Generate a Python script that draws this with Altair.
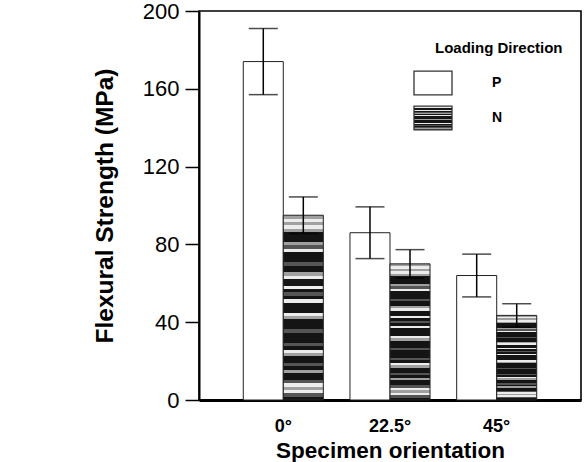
import altair as alt
import pandas as pd

# Flexural strength by specimen orientation, two loading directions
orientation = ["0°", "22.5°", "45°"]
directions = ["P", "N"]
p_mean = [174, 86, 64]
p_err = [17, 13.3, 11]
n_mean = [95, 70, 43.5]
n_err = [9.4, 7.3, 6]

rows = []
for i, o in enumerate(orientation):
    rows.append({"orientation": o, "dir": "P", "mean": p_mean[i], "err": p_err[i]})
    rows.append({"orientation": o, "dir": "N", "mean": n_mean[i], "err": n_err[i]})
df = pd.DataFrame(rows)
df["lo"] = df["mean"] - df["err"]
df["hi"] = df["mean"] + df["err"]

# Horizontal streaky texture for the N bars, built as a hard-stop vertical gradient
STRIPES = "gwgwgkkkgdwkkkdkkgwkkwkdkwkkkwgkkkdkkkdkwgkkdkgkkdwgwdk"
SHADES = {"k": "#141414", "d": "#555555", "g": "#a0a0a0", "w": "#ececec"}
n = len(STRIPES)
stops = []
for i, ch in enumerate(STRIPES):
    c = SHADES[ch]
    stops.append(f"{{offset:{i / n:.4f},color:'{c}'}}")
    stops.append(f"{{offset:{(i + 1) / n:.4f},color:'{c}'}}")
texture = "{gradient:'linear',x1:0,y1:0,x2:0,y2:1,stops:[" + ",".join(stops) + "]}"

FONT = "Liberation Sans"

x_enc = alt.X(
    "orientation:N",
    sort=orientation,
    scale=alt.Scale(paddingInner=0, paddingOuter=0.29),
    axis=alt.Axis(
        title="Specimen orientation",
        labelAngle=0,
        ticks=False,
        labelFontSize=18,
        labelFontWeight="bold",
        labelPadding=17,
        titleFontSize=22.5,
        titleFontWeight="bold",
        titlePadding=4,
        domainWidth=3,
        domainColor="black",
        labelColor="black",
        titleColor="black",
    ),
)
xoff_enc = alt.XOffset(
    "dir:N", sort=directions, scale=alt.Scale(paddingInner=0, paddingOuter=0.333)
)

y_axis = alt.Axis(
    title="Flexural Strength (MPa)",
    values=list(range(0, 201, 20)),
    labelExpr="datum.value % 40 == 0 ? datum.label : ''",
    tickSize={"condition": {"test": "datum.value % 40 == 0", "value": 14}, "value": 9},
    tickWidth=1.5,
    tickColor="black",
    domainWidth=2,
    domainColor="black",
    labelFontSize=22,
    labelPadding=6,
    labelColor="black",
    titleFontSize=24.5,
    titleFontWeight="bold",
    titlePadding=25,
    titleColor="black",
    grid=False,
)

bars = alt.Chart(df).mark_bar(stroke="#222", strokeWidth=1).encode(
    x=x_enc,
    xOffset=xoff_enc,
    y=alt.Y("mean:Q", scale=alt.Scale(domain=[0, 200], nice=False), axis=y_axis),
    color=alt.Color(
        "dir:N",
        sort=directions,
        scale=alt.Scale(domain=directions, range=["white", {"expr": texture}]),
        legend=alt.Legend(
            title="Loading Direction",
            orient="none",
            legendX=236,
            legendY=30,
            symbolType="M-1,-0.63L1,-0.63L1,0.63L-1,0.63Z",
            symbolSize=1444,
            symbolStrokeColor="#333",
            symbolStrokeWidth=1.3,
            symbolOffset=-22,
            labelOffset=39,
            labelFontSize=14,
            labelFontWeight="bold",
            labelColor="black",
            titleFontSize=15,
            titleFontWeight="bold",
            titleColor="black",
            titlePadding=7,
            rowPadding=-2,
            padding=0,
        ),
    ),
)

stems = alt.Chart(df).mark_rule(color="black", strokeWidth=1.5).encode(
    x=x_enc, xOffset=xoff_enc, y="lo:Q", y2="hi:Q"
)
caps_lo = alt.Chart(df).mark_tick(color="black", size=29, thickness=1.5).encode(
    x=x_enc, xOffset=xoff_enc, y="lo:Q"
)
caps_hi = alt.Chart(df).mark_tick(color="black", size=29, thickness=1.5).encode(
    x=x_enc, xOffset=xoff_enc, y="hi:Q"
)

chart = (
    alt.layer(bars, stems, caps_lo, caps_hi)
    .properties(
        width=382,
        height=389,
        autosize=alt.AutoSizeParams(type="none"),
        padding={"left": 199, "top": 11, "right": 7, "bottom": 62},
    )
    .configure(font=FONT, background="white")
    .configure_view(stroke="black", strokeWidth=1.6)
)

chart.save("out.html", embed_options={"renderer": "svg", "actions": False})
